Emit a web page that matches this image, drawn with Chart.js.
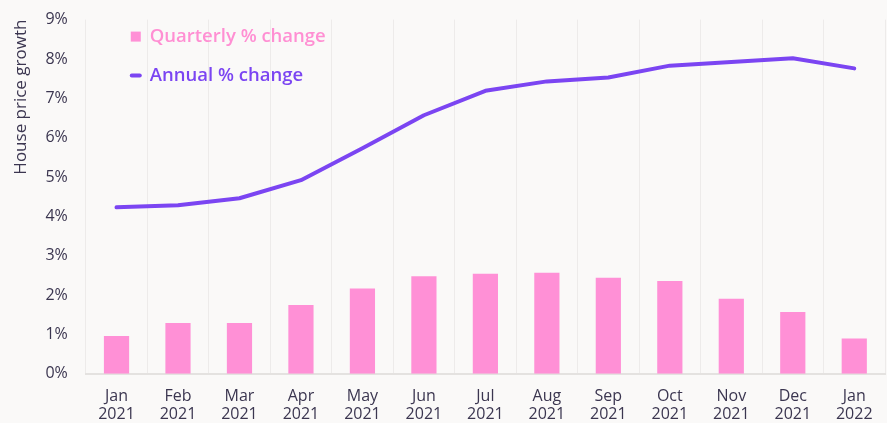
<!DOCTYPE html>
<html>
<head>
<meta charset="utf-8">
<script src="https://cdn.jsdelivr.net/npm/chart.js@4.4.1/dist/chart.umd.min.js"></script>
<style>
  html, body { margin: 0; padding: 0; background: #FAF9F8; }
  #wrap { width: 887px; height: 423px; position: relative; }
</style>
</head>
<body>
<div id="wrap"><canvas id="c" width="887" height="423"></canvas></div>
<script>
const months = ["Jan", "Feb", "Mar", "Apr", "May", "Jun", "Jul", "Aug", "Sep", "Oct", "Nov", "Dec", "Jan"];
const years = ["2021", "2021", "2021", "2021", "2021", "2021", "2021", "2021", "2021", "2021", "2021", "2021", "2022"];
const quarterlyChange = [0.96, 1.29, 1.29, 1.75, 2.17, 2.48, 2.54, 2.57, 2.44, 2.36, 1.91, 1.57, 0.90];
const annualChange = [4.23, 4.28, 4.46, 4.92, 5.73, 6.57, 7.19, 7.43, 7.53, 7.83, 7.92, 8.02, 7.76];
const yTicks = [0, 1, 2, 3, 4, 5, 6, 7, 8, 9];

const FONT = "'Open Sans', sans-serif";
const TEXT = "#3B3650";
const PINK = "#FF90D6";
const PURPLE = "#7B45F2";

const labels = months.map((m, i) => [m, years[i]]);

const legendPlugin = {
  id: 'insideLegend',
  afterDraw(chart) {
    const ctx = chart.ctx;
    const a = chart.chartArea;
    const ds = chart.data.datasets;
    ctx.save();
    ctx.font = "600 18.5px " + FONT;
    ctx.textBaseline = 'middle';
    const x0 = a.left + 45;
    const y1 = a.top + 17;
    ctx.fillStyle = ds[0].backgroundColor;
    ctx.fillRect(x0, y1 - 5, 10, 10);
    ctx.fillStyle = ds[0].legendTextColor;
    ctx.fillText(ds[0].label, x0 + 19, y1);
    const y2 = a.top + 56;
    ctx.strokeStyle = ds[1].borderColor;
    ctx.lineWidth = 4;
    ctx.lineCap = 'round';
    ctx.beginPath();
    ctx.moveTo(x0 + 1, y2);
    ctx.lineTo(x0 + 9, y2);
    ctx.stroke();
    ctx.fillStyle = ds[1].borderColor;
    ctx.fillText(ds[1].label, x0 + 19, y2);
    ctx.restore();
  }
};

new Chart(document.getElementById('c'), {
  type: 'bar',
  data: {
    labels: labels,
    datasets: [
      {
        type: 'bar',
        label: 'Quarterly % change',
        data: quarterlyChange,
        backgroundColor: PINK,
        legendTextColor: "#FF8FD3",
        borderWidth: 0,
        categoryPercentage: 1.0,
        barPercentage: 0.41,
        order: 2
      },
      {
        type: 'line',
        label: 'Annual % change',
        data: annualChange,
        borderColor: PURPLE,
        backgroundColor: PURPLE,
        borderWidth: 4,
        pointRadius: 0,
        tension: 0,
        borderCapStyle: 'round',
        borderJoinStyle: 'round',
        order: 1
      }
    ]
  },
  options: {
    responsive: false,
    animation: false,
    layout: { padding: { top: 5, right: 2, left: 11, bottom: -14 } },
    plugins: {
      legend: { display: false },
      tooltip: { enabled: false }
    },
    scales: {
      x: {
        grid: { display: true, color: "#EDEBEA", lineWidth: 1, drawTicks: false, offset: true },
        border: { display: true, color: "#E4E2E0", width: 2 },
        ticks: { color: TEXT, font: { family: FONT, size: 16, lineHeight: 1.1 }, padding: 14, maxRotation: 0, autoSkip: false }
      },
      y: {
        min: 0,
        max: 9,
        afterBuildTicks(scale) { scale.ticks = yTicks.map(v => ({ value: v })); },
        grid: { display: false },
        border: { display: false },
        ticks: { color: TEXT, font: { family: FONT, size: 16 }, padding: 10, callback: v => v + '%' },
        title: { display: true, text: 'House price growth', align: 'end', color: TEXT, font: { family: FONT, size: 17 }, padding: { top: 0, bottom: 4 } }
      }
    }
  },
  plugins: [legendPlugin]
});
</script>
</body>
</html>
